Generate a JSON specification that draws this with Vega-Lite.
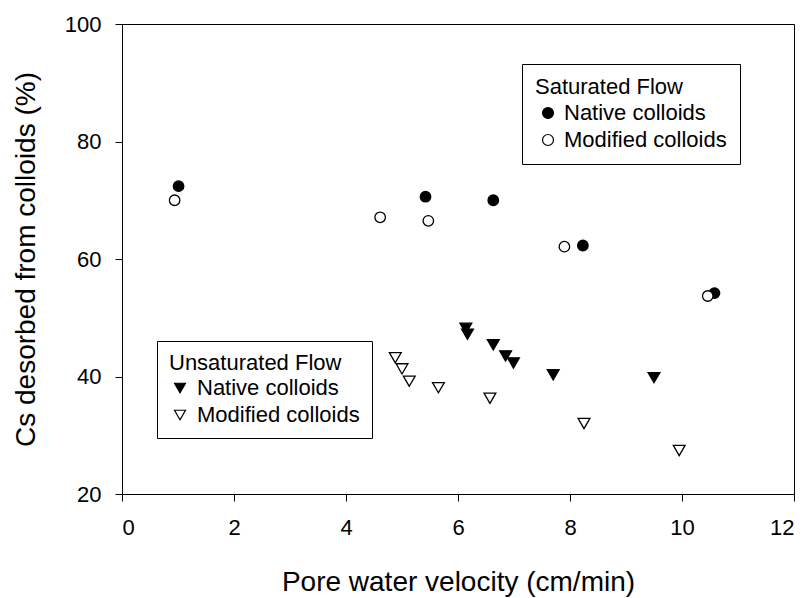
{
  "$schema": "https://vega.github.io/schema/vega-lite/v6.json",
  "width": 672,
  "height": 470,
  "autosize": "none",
  "padding": {"left": 122, "top": 24, "right": 15, "bottom": 104},
  "background": "white",
  "config": {
    "font": "Liberation Sans",
    "view": {"stroke": "black", "strokeWidth": 1},
    "axis": {
      "grid": false,
      "domainColor": "black",
      "tickColor": "black",
      "labelColor": "black",
      "titleColor": "black",
      "labelFont": "Liberation Sans",
      "titleFont": "Liberation Sans",
      "labelFontSize": 22,
      "titleFontSize": 28,
      "titleFontWeight": "normal",
      "tickSize": 7,
      "domainWidth": 1,
      "tickWidth": 1
    },
    "legend": {
      "strokeColor": "black",
      "fillColor": "white",
      "padding": 12,
      "titleFont": "Liberation Sans",
      "labelFont": "Liberation Sans",
      "titleFontSize": 22,
      "labelFontSize": 22,
      "titleFontWeight": "normal",
      "titleColor": "black",
      "labelColor": "black",
      "symbolStrokeColor": "black",
      "symbolStrokeWidth": 1.2,
      "symbolSize": 120,
      "rowPadding": 5,
      "titlePadding": 1,
      "labelLimit": 400
    }
  },
  "data": {
    "values": [
      {"flow": "Saturated Flow", "colloid": "Native colloids", "velocity": 1.01, "desorbed": 72.4},
      {"flow": "Saturated Flow", "colloid": "Native colloids", "velocity": 5.42, "desorbed": 70.6},
      {"flow": "Saturated Flow", "colloid": "Native colloids", "velocity": 6.63, "desorbed": 70.0},
      {"flow": "Saturated Flow", "colloid": "Native colloids", "velocity": 8.23, "desorbed": 62.3},
      {"flow": "Saturated Flow", "colloid": "Native colloids", "velocity": 10.58, "desorbed": 54.2},
      {"flow": "Saturated Flow", "colloid": "Modified colloids", "velocity": 0.94, "desorbed": 70.0},
      {"flow": "Saturated Flow", "colloid": "Modified colloids", "velocity": 4.61, "desorbed": 67.1},
      {"flow": "Saturated Flow", "colloid": "Modified colloids", "velocity": 5.47, "desorbed": 66.5},
      {"flow": "Saturated Flow", "colloid": "Modified colloids", "velocity": 7.9, "desorbed": 62.1},
      {"flow": "Saturated Flow", "colloid": "Modified colloids", "velocity": 10.46, "desorbed": 53.7},
      {"flow": "Unsaturated Flow", "colloid": "Native colloids", "velocity": 6.14, "desorbed": 48.2},
      {"flow": "Unsaturated Flow", "colloid": "Native colloids", "velocity": 6.17, "desorbed": 47.2},
      {"flow": "Unsaturated Flow", "colloid": "Native colloids", "velocity": 6.63, "desorbed": 45.4},
      {"flow": "Unsaturated Flow", "colloid": "Native colloids", "velocity": 6.85, "desorbed": 43.5},
      {"flow": "Unsaturated Flow", "colloid": "Native colloids", "velocity": 6.99, "desorbed": 42.3},
      {"flow": "Unsaturated Flow", "colloid": "Native colloids", "velocity": 7.7, "desorbed": 40.3},
      {"flow": "Unsaturated Flow", "colloid": "Native colloids", "velocity": 9.5, "desorbed": 39.8},
      {"flow": "Unsaturated Flow", "colloid": "Modified colloids", "velocity": 4.88, "desorbed": 43.2},
      {"flow": "Unsaturated Flow", "colloid": "Modified colloids", "velocity": 5.0, "desorbed": 41.3},
      {"flow": "Unsaturated Flow", "colloid": "Modified colloids", "velocity": 5.13, "desorbed": 39.2},
      {"flow": "Unsaturated Flow", "colloid": "Modified colloids", "velocity": 5.65, "desorbed": 38.1},
      {"flow": "Unsaturated Flow", "colloid": "Modified colloids", "velocity": 6.57, "desorbed": 36.3},
      {"flow": "Unsaturated Flow", "colloid": "Modified colloids", "velocity": 8.25, "desorbed": 32.0},
      {"flow": "Unsaturated Flow", "colloid": "Modified colloids", "velocity": 9.95, "desorbed": 27.4}
    ]
  },
  "encoding": {
    "x": {
      "field": "velocity",
      "type": "quantitative",
      "scale": {"domain": [0, 12], "nice": false, "zero": false},
      "axis": {"values": [0, 2, 4, 6, 8, 10, 12], "title": "Pore water velocity (cm/min)", "labelPadding": 16, "titlePadding": 30}
    },
    "y": {
      "field": "desorbed",
      "type": "quantitative",
      "scale": {"domain": [20, 100], "nice": false, "zero": false},
      "axis": {"values": [20, 40, 60, 80, 100], "title": "Cs desorbed from colloids (%)", "labelPadding": 14, "titlePadding": 24}
    }
  },
  "layer": [
    {
      "transform": [{"filter": "datum.flow === 'Saturated Flow'"}],
      "mark": {"type": "point", "shape": "circle", "filled": true, "size": 110, "stroke": "black", "strokeWidth": 1.3, "opacity": 1},
      "encoding": {
        "fill": {
          "field": "colloid",
          "type": "nominal",
          "sort": ["Native colloids", "Modified colloids"],
          "scale": {"domain": ["Native colloids", "Modified colloids"], "range": ["black", "white"]},
          "legend": {"title": "Saturated Flow", "orient": "none", "legendX": 400, "legendY": 40, "padding": 13, "titlePadding": 3, "symbolType": "circle", "symbolOffset": 2, "labelOffset": 5}
        }
      }
    },
    {
      "transform": [{"filter": "datum.flow === 'Unsaturated Flow'"}],
      "mark": {"type": "point", "shape": "triangle-down", "filled": true, "size": 140, "stroke": "black", "strokeWidth": 1.3, "opacity": 1},
      "encoding": {
        "fill": {
          "field": "colloid",
          "type": "nominal",
          "sort": ["Native colloids", "Modified colloids"],
          "scale": {"domain": ["Native colloids", "Modified colloids"], "range": ["black", "white"]},
          "legend": {"title": "Unsaturated Flow", "orient": "none", "legendX": 35, "legendY": 317, "padding": 12, "titlePadding": 2, "symbolType": "triangle-down", "labelOffset": 6}
        }
      }
    }
  ],
  "resolve": {"scale": {"fill": "independent"}, "legend": {"fill": "independent"}}
}
